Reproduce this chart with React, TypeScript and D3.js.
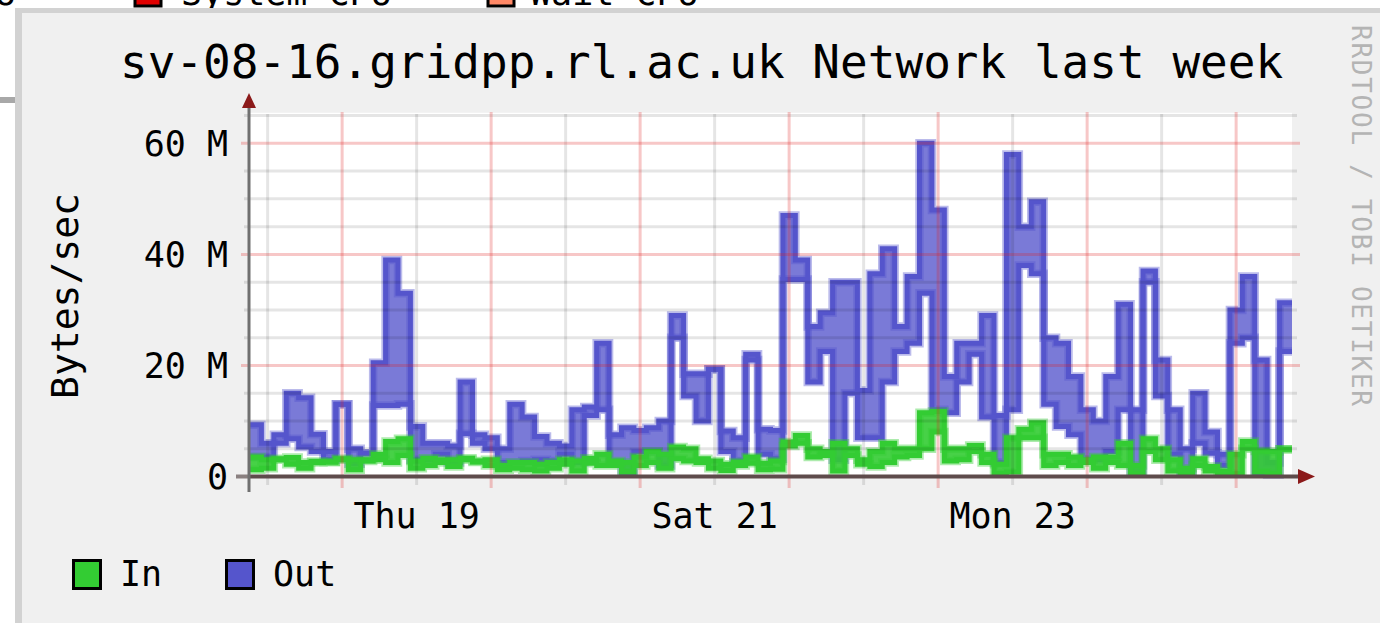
import React from 'react';
import * as d3 from 'd3';

const TITLE = 'sv-08-16.gridpp.rl.ac.uk Network last week';
const Y_LABEL = 'Bytes/sec';
const WATERMARK = 'RRDTOOL / TOBI OETIKER';
const Y_MAJOR = [0, 20, 40, 60];
const Y_MINOR = [5, 10, 15, 25, 30, 35, 45, 50, 55, 65];
const START = Date.UTC(2006, 0, 18, 9, 0);
const SPAN_HOURS = 168;
const STEP_HOURS = 2;
const X_LABELS = [Date.UTC(2006, 0, 19, 12), Date.UTC(2006, 0, 21, 12), Date.UTC(2006, 0, 23, 12)];
const LEGEND = [
  { name: 'In', color: '#33cc33' },
  { name: 'Out', color: '#5555cc' },
];

// Out (MB/s), per 2h bucket: upper and lower envelope
const outHi = [9.3, 6, 7.5, 15, 14.2, 7.6, 4.5, 13, 5, 4.2, 20.5, 39, 33, 9, 6, 6, 5.5, 17, 7.5, 7,
  5, 13, 10.7, 7.2, 6, 5.5, 12, 12.5, 24, 7.5, 8.8, 8.3, 8.8, 10, 29, 18.5, 18.5, 19.3, 8.2, 7,
  22, 8.5, 8.3, 47, 39, 27, 29.5, 35, 35, 15.5, 36.5, 41, 27, 36, 60, 48, 18, 24, 24, 29,
  11, 58, 45, 49.5, 25, 24, 18, 12, 10, 18, 31, 12, 37, 21, 12, 5, 15, 8, 4, 30,
  36, 21, 2.5, 31.3];
const outLo = [3.5, 3.5, 6, 6.8, 5.3, 4.5, 3, 13, 2.3, 4.2, 12.8, 12.8, 13, 3, 3, 4, 2.5, 7.7, 6, 5,
  2.5, 2.5, 2.8, 3, 2.8, 4, 2.5, 11, 12, 2.5, 0.5, 4.4, 4.5, 2, 25, 14.5, 10, 19.3, 4.5, 2.8,
  21, 4, 3.2, 35.5, 35.5, 17, 22.5, 3, 15, 7, 7, 17, 22.5, 24, 33, 12, 11.5, 17, 22, 10.7,
  2.5, 12, 38, 36.5, 13, 9, 7.5, 3, 3, 4.5, 12, 0.5, 35, 14.5, 4, 0.5, 6, 4.2, 2, 24,
  25, 0.5, 0.3, 22.5];
// In (MB/s)
const inHi = [3.5, 3, 3.2, 3.4, 2.5, 2.7, 2.6, 3.2, 3, 3, 4, 6.3, 6.8, 2.8, 3.3, 3, 3, 3.3, 2.8, 3,
  2, 2.5, 2.5, 2.2, 2.5, 3, 2.8, 3.3, 4, 2.8, 2.5, 3.5, 4.5, 4, 5.3, 5, 3.2, 2.8, 2.2, 2.6,
  3.5, 2.4, 2.8, 6.2, 7.4, 5, 4.5, 6, 5, 3, 4.5, 6, 5, 5, 11.5, 11.7, 5, 5, 5.6, 4,
  2.2, 7, 8.5, 9.7, 4, 4, 3.5, 3, 3.5, 3.5, 6, 2, 6.8, 5, 3, 1.5, 3.2, 1.8, 1, 4,
  6.3, 4.6, 4.5, 4.9];
const inLo = [1.2, 1.5, 3.0, 2.2, 1.5, 2.5, 2.6, 3.0, 1.2, 2.8, 3, 2.5, 3.8, 1.5, 2, 2.5, 1.8, 3.0, 2.6, 2,
  1.2, 1.5, 1.2, 1, 1.5, 2.2, 1, 2.4, 2, 2, 0.8, 2, 2.5, 1.5, 3.2, 2.8, 2.5, 1.5, 1.1, 2,
  2.4, 1.2, 1.3, 5.5, 6, 3.5, 3.8, 1, 3.8, 2.2, 1.8, 2.5, 3.5, 3.8, 5, 8, 2.8, 3, 4.5, 2.5,
  0.6, 0.8, 7, 7, 2, 2.5, 2, 2.5, 1.5, 2.5, 2, 0.5, 4.5, 3, 1, 0.5, 2, 1, 0.6, 0.5,
  5, 0.8, 0.5, 4.9];

const W = 1380;
const H = 623;
const MONO = '"DejaVu Sans Mono", "Liberation Mono", monospace';

export default function App() {
  const end = START + SPAN_HOURS * 3600e3;
  const x = d3.scaleUtc().domain([new Date(START), new Date(end)]).range([249, 1292]);
  const y = d3.scaleLinear().domain([0, 65.5]).range([476.5, 112.8]);

  const times = d3.range(outHi.length + 1).map((i) => new Date(START + i * STEP_HOURS * 3600e3));
  const ext = (a: number[]) => [...a, a[a.length - 1]];

  type P = { t: Date; hi: number; lo: number };
  const mk = (hi: number[], lo: number[]): P[] => {
    const h = ext(hi), l = ext(lo);
    return times.map((t, i) => ({ t, hi: h[i], lo: l[i] }));
  };
  const outPts = mk(outHi, outLo);
  const inPts = mk(inHi, inLo);

  const lineHi = d3.line<P>().x((d) => x(d.t)).y((d) => y(d.hi)).curve(d3.curveStepAfter);
  const lineLo = d3.line<P>().x((d) => x(d.t)).y((d) => y(d.lo)).curve(d3.curveStepAfter);
  const band = d3.area<P>().x((d) => x(d.t)).y0((d) => y(d.lo)).y1((d) => y(d.hi)).curve(d3.curveStepAfter);

  const midnights = d3.utcDay.range(new Date(START), new Date(end));
  const noons = d3.utcHour.range(new Date(START), new Date(end)).filter((d) => d.getUTCHours() === 12);
  const fmt = d3.utcFormat('%a %d');

  const series = (pts: P[], color: string, bandOpacity: number) => (
    <g>
      <path d={lineHi(pts)!} fill="none" stroke={color} strokeOpacity={0.4} strokeWidth={8.5} strokeLinejoin="miter" />
      <path d={lineLo(pts)!} fill="none" stroke={color} strokeOpacity={0.4} strokeWidth={8.5} strokeLinejoin="miter" />
      <path d={band(pts)!} fill={color} fillOpacity={bandOpacity} stroke="none" />
      <path d={lineHi(pts)!} fill="none" stroke={color} strokeWidth={5} strokeLinejoin="miter" />
      <path d={lineLo(pts)!} fill="none" stroke={color} strokeWidth={5} strokeLinejoin="miter" />
    </g>
  );

  return (
    <div style={{ position: 'absolute', left: 0, top: 0 }}>
      <svg width={W} height={H} xmlns="http://www.w3.org/2000/svg" style={{ display: 'block' }}>
        <defs>
          <clipPath id="plot">
            <rect x={249} y={112.8} width={1043} height={366} />
          </clipPath>
        </defs>
        <rect x={0} y={0} width={W} height={H} fill="#ffffff" />
        {/* fragment of the graph above */}
        <g fontFamily={MONO} fontSize={35} fill="#000">
          <text x={16} y={5} textAnchor="end">CPU</text>
          <rect x={135} y={-22} width={26} height={28} fill="#e00000" stroke="#000" strokeWidth={3} />
          <text x={181} y={5}>System CPU</text>
          <rect x={488} y={-22} width={26} height={28} fill="#ff8866" stroke="#000" strokeWidth={3} />
          <text x={530} y={5}>Wait CPU</text>
        </g>
        <rect x={0} y={97} width={15} height={6} fill="#a8a8a8" />
        {/* panel */}
        <rect x={15} y={8} width={W - 15} height={H - 8} fill="#d2d2d2" />
        <rect x={22} y={13} width={W - 22} height={H - 13} fill="#f0f0f0" />

        <text x={120} y={78} fontFamily={MONO} fontSize={46} fill="#000">{TITLE}</text>

        {/* plot background */}
        <rect x={249} y={112.8} width={1043} height={363.7} fill="#ffffff" />

        <g clipPath="url(#plot)">
          {series(outPts, '#5555cc', 0.78)}
          {series(inPts, '#33cc33', 0.9)}
        </g>

        {/* grid */}
        <g>
          {Y_MINOR.map((v) => (
            <line key={'ym' + v} x1={244} x2={1297} y1={y(v)} y2={y(v)} stroke="rgb(0,0,0)" strokeOpacity={0.1} strokeWidth={3} />
          ))}
          {noons.map((d) => (
            <line key={'xn' + +d} x1={x(d)} x2={x(d)} y1={114} y2={485} stroke="rgb(0,0,0)" strokeOpacity={0.1} strokeWidth={3} />
          ))}
          {Y_MAJOR.filter((v) => v > 0).map((v) => (
            <line key={'yM' + v} x1={241} x2={1300} y1={y(v)} y2={y(v)} stroke="rgb(225,30,30)" strokeOpacity={0.25} strokeWidth={3} />
          ))}
          {midnights.map((d) => (
            <line key={'xm' + +d} x1={x(d)} x2={x(d)} y1={112} y2={488} stroke="rgb(225,30,30)" strokeOpacity={0.25} strokeWidth={3} />
          ))}
        </g>

        {/* axes */}
        <line x1={236} x2={249} y1={y(0)} y2={y(0)} stroke="#8a8080" strokeWidth={4} />
        <line x1={249} x2={1300} y1={y(0)} y2={y(0)} stroke="#5e4b4b" strokeWidth={4} />
        <line x1={249} x2={249} y1={104} y2={492} stroke="#707070" strokeWidth={3} />
        <path d="M242,108 L256,108 L249,93 Z" fill="#8b1a1a" />
        <path d="M1298,469 L1298,484 L1315,476.5 Z" fill="#8b1a1a" />

        {/* y tick labels */}
        <g fontFamily={MONO} fontSize={35} fill="#000" textAnchor="end">
          {Y_MAJOR.map((v) => (
            <text key={'yl' + v} x={228} y={y(v) + 12.5}>{v === 0 ? '0' : `${v} M`}</text>
          ))}
        </g>
        {/* x tick labels */}
        <g fontFamily={MONO} fontSize={35} fill="#000" textAnchor="middle">
          {X_LABELS.map((t) => (
            <text key={'xl' + t} x={x(new Date(t))} y={528}>{fmt(new Date(t))}</text>
          ))}
        </g>

        <text transform="translate(78,296) rotate(-90)" textAnchor="middle" fontFamily={MONO} fontSize={38} fill="#000">{Y_LABEL}</text>

        <text transform="translate(1352,25) rotate(90)" fontFamily={MONO} fontSize={26} fill="#b4b4b4" textLength={381} lengthAdjust="spacing">{WATERMARK}</text>

        {/* legend */}
        <g fontFamily={MONO} fontSize={35} fill="#000">
          {LEGEND.map((l, i) => (
            <g key={l.name} transform={`translate(${i * 153},0)`}>
              <rect x={73.5} y={560.5} width={27} height={28} fill={l.color} stroke="#000" strokeWidth={3} />
              <text x={120} y={586}>{l.name}</text>
            </g>
          ))}
        </g>
      </svg>
    </div>
  );
}
